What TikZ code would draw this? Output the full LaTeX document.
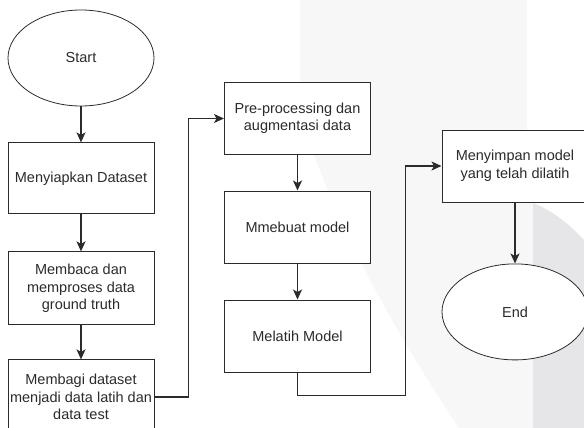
\documentclass[tikz,border=0pt]{standalone}
\usepackage{fontspec}
\setmainfont{Liberation Sans}
\usetikzlibrary{positioning,shapes.geometric,arrows.meta}
\definecolor{lineGrey}{HTML}{2B2B2B}
\definecolor{markLight}{HTML}{F7F7F7}
\definecolor{markDark}{HTML}{E6E6E8}
\newcommand{\boxFont}{\fontsize{14.5}{17.5}\selectfont}

\begin{document}
\begin{tikzpicture}[x=1pt, y=-1pt]
  \tikzset{proc/.style={draw=lineGrey, line width=1pt, fill=white, rectangle, minimum width=146pt, minimum height=71pt, inner sep=2pt, align=center, font=\boxFont, text=lineGrey},
    term/.style={draw=lineGrey, line width=0.8pt, fill=white, ellipse, minimum width=146pt, minimum height=96pt, inner sep=0pt, font=\boxFont, text=lineGrey},
    flow/.style={draw=lineGrey, line width=1.3pt, -{Stealth[length=10pt,width=9pt,inset=2.5pt]}}}
  \useasboundingbox (0,0) rectangle (584,428);
  \clip (0,0) rectangle (584,428);
  % faint background mark
  \fill[markLight] (300,0) -- (527,0) -- (527,203) -- (533,203) -- (533,428) -- (459,428) .. controls (400,340) and (330,220) .. (300,110) -- cycle;
  \fill[markDark] (533,203) .. controls (555,212) and (570,225) .. (584,240) -- (584,428) -- (533,428) -- cycle;

  \node[term] (start) at (81,58) {Start};
  \node[proc, below=36pt of start] (dataset) {Menyiapkan Dataset};
  \node[proc, below=37pt of dataset, minimum height=73pt] (groundtruth) {Membaca dan\\memproses data\\ground truth};
  \node[proc, below=34pt of groundtruth, minimum height=74pt] (split) {Membagi dataset\\menjadi data latih dan\\data test};

  \node[proc] (preproc) at (297.5,118.5) {Pre-processing dan\\augmentasi data};
  \node[proc, below=36pt of preproc, minimum height=72pt] (buildmodel) {Mmebuat model};
  \node[proc, below=36pt of buildmodel, minimum height=72pt] (train) {Melatih Model};

  \node[proc, minimum height=72pt] (save) at (515,166) {Menyimpan model\\yang telah dilatih};
  \node[term, below=61pt of save] (end) {End};

  \draw[flow] (start) -- (dataset);
  \draw[flow] (dataset) -- (groundtruth);
  \draw[flow] (groundtruth) -- (split);
  \draw[flow] (split.east) -- ++(34,0) |- (preproc.west);
  \draw[flow] (preproc) -- (buildmodel);
  \draw[flow] (buildmodel) -- (train);
  \draw[flow] (train.south) -- ++(0,23) -| ([xshift=-36pt]save.west) -- (save.west);
  \draw[flow] (save) -- (end);
\end{tikzpicture}
\end{document}
